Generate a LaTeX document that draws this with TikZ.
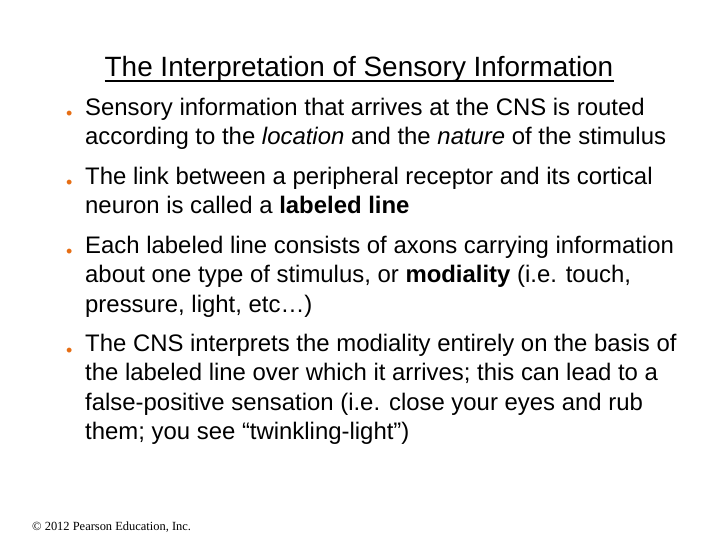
\documentclass[tikz,border=0pt]{standalone}
\usepackage{fontspec}
\setmainfont{Liberation Sans}
\newfontfamily\footfont{Liberation Serif}
\usetikzlibrary{positioning}
\definecolor{bulletorange}{RGB}{230,110,20}
\tikzset{
  item/.style={anchor=north west, align=left, inner sep=0pt,
    font=\fontsize{24}{29.5}\selectfont},
  dot/.style={anchor=base west, inner sep=0pt, text=bulletorange,
    font=\fontsize{18}{20}\selectfont}
}
\begin{document}
\begin{tikzpicture}[x=1bp, y=-1bp]
            \useasboundingbox (0,0) rectangle (720,540);
            \node (title) [anchor=base, inner sep=0pt, font=\fontsize{28}{32}\selectfont] at (359,77) {The Interpretation of Sensory Information};
            \draw[line width=1.3bp] ([yshift=-4bp]title.base west) -- ([yshift=-4bp]title.base east);

            \node (d1) [dot] at (66,120) {\textbullet};
            \node (t1) [item] at (85,98) {Sensory information that arrives at the CNS is routed\\according to the \textit{location} and the \textit{nature} of the stimulus};
            \node (d2) [dot] at (66,189) {\textbullet};
            \node (t2) [item] at (85,167) {The link between a peripheral receptor and its cortical\\neuron is called a \textbf{labeled line}};
            \node (d3) [dot] at (66,258) {\textbullet};
            \node (t3) [item] at (85,236) {Each labeled line consists of axons carrying information\\about one type of stimulus, or \textbf{modiality} (i.e. touch,\\pressure, light, etc\ldots)};
            \node (d4) [dot] at (66,356) {\textbullet};
            \node (t4) [item] at (85,334) {The CNS interprets the modiality entirely on the basis of\\the labeled line over which it arrives; this can lead to a\\false-positive sensation (i.e. close your eyes and rub\\them; you see “twinkling-light”)};

            \node (foot) [anchor=base west, inner sep=0pt, font=\footfont\fontsize{12.5}{14}\selectfont] at (32,530) {© 2012 Pearson Education, Inc.};
            \end{tikzpicture}
\end{document}
